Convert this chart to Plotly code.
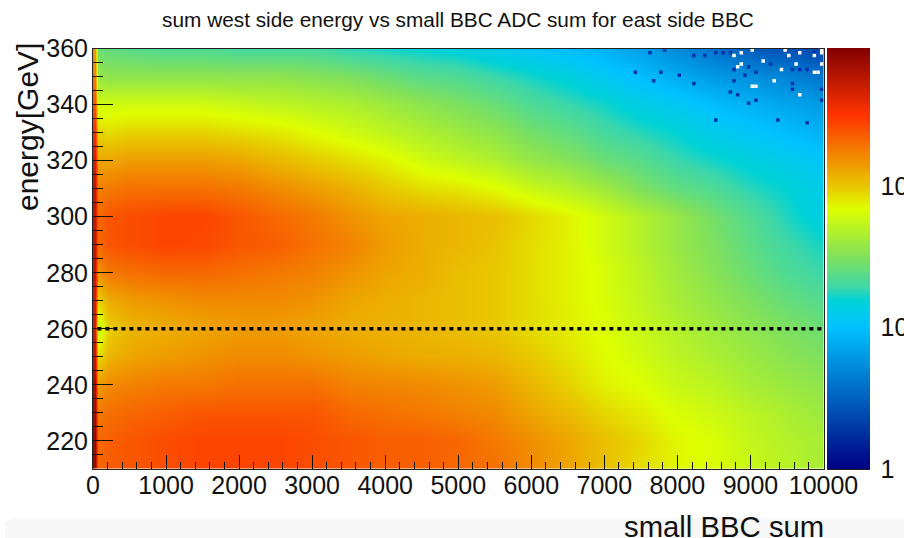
import math
import plotly.graph_objects as go

# Bin centres of the grid
small_bbc_sum = [25, 75, 200, 500, 1000, 1500, 2000, 2500, 3000, 3500, 4000, 4500, 5000,
                 5500, 6000, 6500, 7000, 7500, 8000, 8500, 9000, 9500, 10000]
energy_gev = [210, 220, 230, 240, 250, 260, 270, 280, 290, 300, 310, 320, 330, 340, 350, 360]

# log10(counts) / LOG_MAX for each energy row
LOG_MAX = 2.98
row_210 = [.97,.78,.79,.80,.81,.82,.82,.82,.81,.80,.79,.79,.78,.77,.74,.71,.68,.65,.625,.61,.59,.57,.55]
row_220 = [.97,.78,.79,.80,.81,.82,.82,.82,.81,.80,.79,.79,.78,.76,.735,.71,.68,.655,.625,.61,.585,.565,.55]
row_230 = [.96,.76,.77,.78,.79,.80,.80,.80,.80,.78,.77,.76,.75,.74,.71,.685,.655,.635,.61,.595,.575,.555,.535]
row_240 = [.95,.72,.74,.75,.76,.76,.77,.77,.77,.75,.745,.74,.73,.72,.69,.66,.63,.615,.59,.575,.55,.535,.52]
row_250 = [.92,.65,.69,.71,.72,.73,.74,.74,.73,.72,.71,.70,.70,.69,.67,.645,.62,.60,.575,.555,.535,.515,.50]
row_260 = [.90,.58,.66,.69,.70,.71,.72,.72,.71,.70,.695,.69,.68,.67,.65,.635,.615,.59,.565,.54,.52,.50,.48]
row_270 = [.90,.66,.70,.72,.73,.74,.74,.74,.73,.71,.70,.69,.68,.67,.65,.63,.61,.58,.55,.525,.50,.475,.455]
row_280 = [.92,.73,.76,.77,.78,.78,.77,.76,.75,.73,.71,.70,.68,.67,.65,.63,.61,.575,.54,.51,.48,.45,.43]
row_290 = [.92,.78,.80,.81,.82,.815,.80,.79,.77,.75,.72,.70,.69,.675,.65,.63,.60,.565,.53,.50,.465,.435,.41]
row_300 = [.92,.78,.80,.81,.82,.82,.80,.78,.76,.73,.71,.70,.69,.68,.655,.63,.60,.565,.53,.49,.455,.415,.38]
row_310 = [.92,.75,.76,.77,.77,.77,.76,.74,.72,.70,.67,.65,.64,.62,.59,.57,.54,.50,.47,.45,.42,.40,.37]
row_320 = [.90,.71,.71,.72,.72,.72,.71,.69,.67,.65,.63,.60,.58,.56,.53,.51,.48,.46,.43,.41,.39,.37,.35]
row_330 = [.85,.66,.65,.66,.66,.66,.65,.64,.62,.60,.58,.56,.54,.52,.49,.47,.44,.42,.40,.37,.35,.33,.31]
row_340 = [.80,.60,.60,.60,.60,.60,.59,.58,.57,.56,.54,.52,.50,.48,.45,.43,.41,.38,.36,.33,.31,.29,.27]
row_350 = [.75,.53,.52,.52,.52,.52,.52,.52,.51,.50,.48,.46,.45,.43,.41,.39,.36,.33,.30,.27,.25,.23,.20]
row_360 = [.72,.48,.47,.46,.45,.45,.44,.44,.44,.42,.41,.40,.39,.37,.35,.33,.31,.28,.24,.20,.16,.14,.12]
levels = [row_210, row_220, row_230, row_240, row_250, row_260, row_270, row_280,
          row_290, row_300, row_310, row_320, row_330, row_340, row_350, row_360]

# Low-count (dark blue) bins in the sparse corner
low_x = [7625, 7825, 8225, 8375, 8525, 8625, 8725, 9675, 9875, 8775, 8975, 9675, 9775, 9875, 9575,
         8925, 9075, 9275, 9575, 9575, 8725, 8825, 8975, 9075, 9375, 9775, 8525, 9975, 9975, 8775,
         7775, 7675, 8225, 8025, 7425]
low_y = [358.5, 359.5, 357.5, 357.5, 358.5, 358.5, 358.5, 358.5, 358.5, 352.5, 353.5, 352.5, 352.5,
         351.5, 352.5, 350.5, 351.5, 354.5, 347.5, 345.5, 344.5, 343.5, 340.5, 341.5, 334.5, 333.5,
         334.5, 341.5, 345.5, 348.5, 351.5, 348.5, 347.5, 350.5, 351.5]

# Empty (white) bins in the top right corner
empty_x = [8775, 8875, 9025, 9475, 9525, 9675, 9875, 9975, 9975, 9175, 8875, 8825, 9625, 9975,
           9425, 9875, 9925, 9325, 9025, 9075, 9675]
empty_y = [357.5, 358.5, 359.5, 359.5, 357.5, 358.5, 357.5, 358.5, 359.5, 355.5, 354.5, 353.5,
           354.5, 354.5, 352.5, 351.5, 351.5, 348.5, 346.5, 346.5, 343.5]

line_x = [60, 10000]
line_y = [260, 260]

title_text = "sum west side energy vs small BBC ADC sum for east side BBC"
x_title = "small BBC sum"
y_title = "energy[GeV]"
cb_major = [1, 10, 100]
cb_labels = ["1", "10", "10<sup>2</sup>"]
cb_minor = [2, 3, 4, 5, 6, 7, 8, 9, 20, 30, 40, 50, 60, 70, 80, 90, 200, 300, 400, 500, 600, 700, 800, 900]

W, H = 904, 538
L, R, T, B = 93, 823.5, 48.5, 469
CB_L, CB_R = 827, 869.5
FONT = "Liberation Sans"
INK = "#111111"

rainbow = [[0, "rgb(0,0,130)"], [0.34, "rgb(0,195,255)"], [0.40, "rgb(0,210,215)"],
           [0.43, "rgb(60,215,170)"], [0.505, "rgb(130,225,90)"], [0.617, "rgb(222,255,0)"],
           [0.67, "rgb(232,200,0)"], [0.84, "rgb(255,51,0)"], [1, "rgb(130,0,0)"]]

fig = go.Figure()
fig.add_trace(go.Heatmap(
    x=small_bbc_sum, y=energy_gev, z=levels, zmin=0, zmax=1, zsmooth="best",
    colorscale=rainbow, hoverinfo="skip",
    colorbar=dict(
        x=CB_L / W, xanchor="left", xpad=0, y=1 - B / H, yanchor="bottom", ypad=0,
        len=(B - T) / H, lenmode="fraction", thickness=CB_R - CB_L, thicknessmode="pixels",
        outlinewidth=0, ticks="outside", ticklen=6, tickcolor="rgba(0,0,0,0)", tickmode="array",
        tickvals=[math.log10(v) / LOG_MAX for v in cb_major], ticktext=cb_labels,
        tickfont=dict(family=FONT, size=25, color=INK),
    ),
))
fig.add_trace(go.Scatter(x=low_x, y=low_y, mode="markers", hoverinfo="skip", showlegend=False,
                         marker=dict(symbol="square", size=3.5, color="rgb(0,50,170)", line_width=0)))
fig.add_trace(go.Scatter(x=empty_x, y=empty_y, mode="markers", hoverinfo="skip", showlegend=False,
                         marker=dict(symbol="square", size=3.5, color="white", line_width=0)))
fig.add_trace(go.Scatter(x=line_x, y=line_y, mode="lines", hoverinfo="skip", showlegend=False,
                         line=dict(color="black", width=3.5, dash="4px,4px")))
# Carrier of the colour bar's tick marks
fig.add_trace(go.Scatter(x=[None], y=[None], xaxis="x2", yaxis="y2", showlegend=False, hoverinfo="skip"))

axis_style = dict(showgrid=False, zeroline=False, showline=True, mirror=True, linecolor="#222222",
                  linewidth=1, ticks="inside", tickcolor="#111111", tickwidth=1, tickformat="d",
                  tickfont=dict(family=FONT, size=25, color=INK))
fig.update_layout(
    width=W, height=H, autosize=False, showlegend=False,
    paper_bgcolor="white", plot_bgcolor="white",
    margin=dict(l=0, r=0, t=0, b=0, autoexpand=False),
    title=dict(text=title_text, x=458 / W, xanchor="center", y=1 - 20 / H, yanchor="middle",
               font=dict(family=FONT, size=20.8, color=INK)),
    xaxis=dict(domain=[L / W, R / W], range=[0, 10000], tick0=0, dtick=1000, ticklen=14,
               ticklabelstandoff=-6,
               minor=dict(ticks="inside", dtick=200, ticklen=7, tickcolor="#111111", showgrid=False),
               anchor="y", **axis_style),
    yaxis=dict(domain=[1 - B / H, 1 - T / H], range=[210, 360], tick0=200, dtick=20, ticklen=20,
               ticklabelstandoff=-1,
               minor=dict(ticks="inside", dtick=5, ticklen=10, tickcolor="#111111", showgrid=False),
               anchor="x", **axis_style),
    xaxis2=dict(domain=[CB_L / W, CB_R / W], range=[0, 1], showticklabels=False, ticks="",
                showgrid=False, zeroline=False, showline=True, mirror=True, linecolor="#222222",
                anchor="y2", fixedrange=True),
    yaxis2=dict(domain=[1 - B / H, 1 - T / H], range=[0, 1], side="right", anchor="x2",
                showticklabels=False, showgrid=False, zeroline=False, showline=False,
                ticks="inside", ticklen=21, tickcolor="#111111", tickmode="array",
                tickvals=[math.log10(v) / LOG_MAX for v in cb_major],
                minor=dict(ticks="inside", ticklen=11, tickcolor="#111111", showgrid=False,
                           tickmode="array", tickvals=[math.log10(v) / LOG_MAX for v in cb_minor]),
                fixedrange=True),
    annotations=[
        dict(text=x_title, xref="paper", yref="paper", x=826 / W, y=1 - 526 / H, xanchor="right",
             yanchor="middle", showarrow=False, font=dict(family=FONT, size=29.3, color=INK)),
        dict(text=y_title, xref="paper", yref="paper", x=27 / W, y=1 - 127 / H, xanchor="center",
             yanchor="middle", textangle=-90, showarrow=False, font=dict(family=FONT, size=30, color=INK)),
    ],
    shapes=[dict(type="path", xref="paper", yref="paper", layer="below", line_width=0, fillcolor="#f7f7f7",
                 path=f"M {5/W} 0 L {5/W} {16/H} L {15/W} {20/H} L 1 {20/H} L 1 0 Z")],
)
fig.write_html("out.html", config=dict(displayModeBar=False),
               post_script="document.body.style.margin='0';document.body.style.overflow='hidden';")
